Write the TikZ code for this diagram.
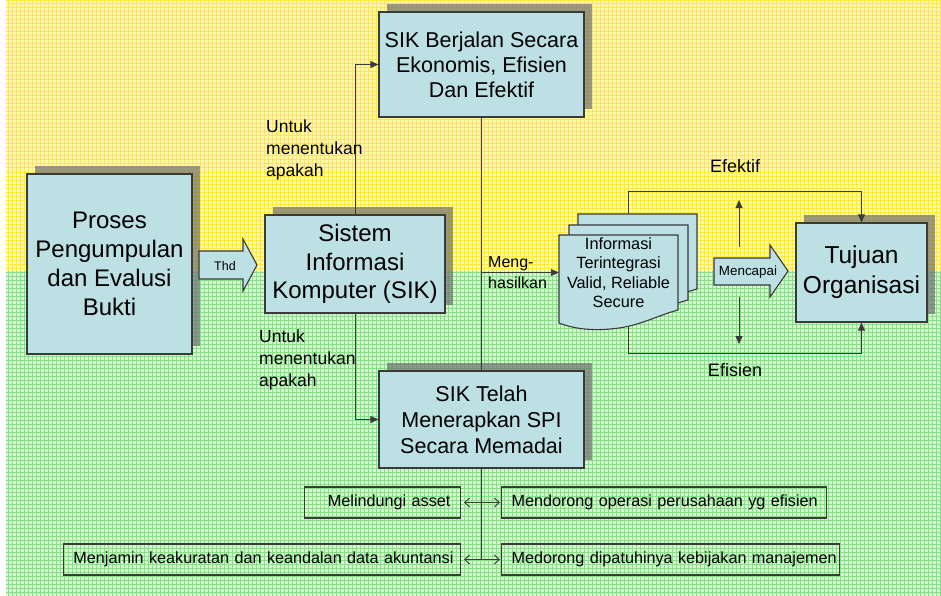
\documentclass[tikz,border=0pt]{standalone}
\usepackage{fontspec}
\setmainfont{Liberation Sans}
\usetikzlibrary{arrows.meta,shadows,calc}

\definecolor{boxfill}{HTML}{BCE0E4}
\definecolor{edge}{HTML}{3A3A3A}
\definecolor{ybase}{HTML}{FFF8B0}
\definecolor{yline}{HTML}{FFE93C}
\definecolor{gbase}{HTML}{D6F6D2}
\definecolor{gline}{HTML}{86E086}
\definecolor{shade}{HTML}{707070}

\tikzset{
  mainbox/.style={draw=edge, line width=1.3pt, fill=boxfill, align=center, inner sep=0pt,
    drop shadow={shadow xshift=8pt, shadow yshift=8pt, fill=shade, opacity=.7}},
  conn/.style={draw=edge, line width=0.9pt},
  tip/.style={-{Triangle[length=8pt,width=7pt]}},
  twoway/.style={{Straight Barb[length=5pt,width=9pt]}-{Straight Barb[length=5pt,width=9pt]}},
  goalbox/.style={draw=edge, line width=1.1pt, inner xsep=10pt, inner ysep=0pt,
    minimum height=31pt, font=\fontsize{16.2}{19}\selectfont},
  lbl/.style={align=left, inner sep=0pt, font=\fontsize{17.5}{22}\selectfont},
  blockarrow/.style={draw=edge, line width=1.1pt, fill=boxfill},
  docpage/.pic={
    \path[blockarrow] (0,0) -- (119,0) -- (119,75)
      .. controls (100,80) and (82,90) .. (60,93)
      .. controls (38,96) and (18,95) .. (0,88) -- cycle;
  },
}

\begin{document}
\begin{tikzpicture}[x=1pt, y=-1pt]
\useasboundingbox (0,0) rectangle (941,596);

% chequered background: yellow upper band, green lower band
\fill[ybase] (6,0) rectangle (941,271);
\fill[gbase] (6,271) rectangle (941,596);
\draw[yline, line width=1pt, step=4pt] (6,0) grid (941,271);
\draw[gline, line width=0.9pt, step=4pt] (6,271) grid (941,596);

% main boxes
\node[mainbox, minimum width=165pt, minimum height=180pt,
      font=\fontsize{24}{29}\selectfont] (proses) at (109.5,264)
      {Proses\\Pengumpulan\\dan Evalusi\\Bukti};
\node[mainbox, minimum width=180pt, minimum height=98pt,
      font=\fontsize{24}{28.5}\selectfont] (sik) at (355,264)
      {Sistem\\Informasi\\Komputer (SIK)};
\node[mainbox, minimum width=205pt, minimum height=105pt,
      font=\fontsize{21.5}{25}\selectfont] (berjalan) at (481.5,64.5)
      {SIK Berjalan Secara\\Ekonomis, Efisien\\Dan Efektif};
\node[mainbox, minimum width=205pt, minimum height=97pt,
      font=\fontsize{21.5}{26}\selectfont] (telah) at (481.5,419.5)
      {SIK Telah\\Menerapkan SPI\\Secara Memadai};
\node[mainbox, minimum width=131pt, minimum height=99pt,
      font=\fontsize{24.5}{30}\selectfont] (tujuan) at (861.5,272.5)
      {Tujuan\\Organisasi};

% block arrow "Thd"
\path[blockarrow] (199,251) -- (243,251) -- (243,239) -- (257,265)
  -- (243,291) -- (243,279) -- (199,279) -- cycle;
\node[font=\fontsize{12.5}{14}\selectfont, inner sep=0pt] (thd) at (225,266) {Thd};

% stacked documents
\pic at (578,214) {docpage};
\pic at (569,225) {docpage};
\pic at (559,235) {docpage};
\node[align=center, inner sep=0pt, minimum width=119pt,
      font=\fontsize{16.3}{19.5}\selectfont] (info) at (618.5,272.5)
      {Informasi\\Terintegrasi\\Valid, Reliable\\Secure};

% block arrow "Mencapai"
\path[blockarrow] (714,258) -- (770,258) -- (770,245) -- (788,271)
  -- (770,297) -- (770,285) -- (714,285) -- cycle;
\node[font=\fontsize{13.4}{15}\selectfont, inner sep=0pt] (capai) at (748,272) {Mencapai};

% connectors from SIK
\draw[conn, tip] (sik.north) |- (berjalan.west);
\draw[conn, tip] (sik.south) |- (telah.west);
\draw[conn] (berjalan.south) -- (telah.north);
\coordinate (branch) at (berjalan.south |- info.west);
\draw[conn, tip] (branch) -- (info.west);

\node[lbl, anchor=west] (ask1) at (266,149.5) {Untuk\\menentukan\\apakah};
\node[lbl, anchor=west] (ask2) at (259,360) {Untuk\\menentukan\\apakah};
\node[lbl, anchor=west, font=\fontsize{16}{21}\selectfont] (yield) at (488,272.5) {Meng-\\hasilkan};

% effective / efficient routes to the goal
\coordinate (eftop) at (628,214);
\coordinate (efbot) at (628,327);
\draw[conn, tip] (eftop) -- ++(0,-23) -| (tujuan.north);
\draw[conn, tip] (efbot) -- ++(0,26) -| (tujuan.south);
\node[font=\fontsize{18}{21}\selectfont, inner sep=0pt] (efektif) at (735,166) {Efektif};
\node[font=\fontsize{18}{21}\selectfont, inner sep=0pt] (efisien) at (735,370) {Efisien};

\coordinate (upfrom) at (739,247);
\coordinate (upto) at (739,200);
\coordinate (downfrom) at (739,297);
\coordinate (downto) at (739,344);
\draw[conn, tip] (upfrom) -- (upto);
\draw[conn, tip] (downfrom) -- (downto);

% objectives of internal control
\node[goalbox, anchor=east, text width=136pt, align=right] (asset) at (461,502.5)
  {\mbox{Melindungi asset}};
\node[goalbox, anchor=east, text width=377pt, align=right] (akurat) at (461,559.5)
  {\mbox{Menjamin keakuratan dan keandalan data akuntansi}};
\node[goalbox, anchor=west, text width=305pt, align=left] (operasi) at (501,502.5)
  {\mbox{Mendorong operasi perusahaan yg efisien}};
\node[goalbox, anchor=west, text width=318pt, align=left] (patuh) at (501,559.5)
  {\mbox{Medorong dipatuhinya kebijakan manajemen}};

\draw[conn] (telah.south) -- (telah.south |- patuh.west);
\draw[conn, twoway, shorten <=3pt, shorten >=1pt] (asset.east) -- (operasi.west);
\draw[conn, twoway, shorten <=3pt, shorten >=1pt] (akurat.east) -- (patuh.west);
\end{tikzpicture}
\end{document}
